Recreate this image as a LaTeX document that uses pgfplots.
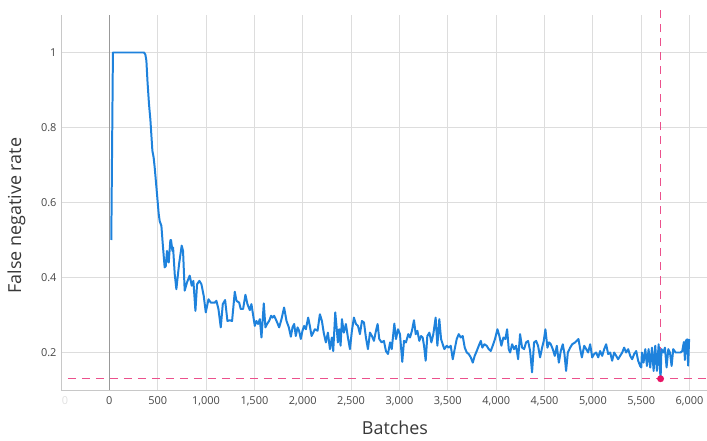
\documentclass[border=0pt]{standalone}
\usepackage{pgfplots}
\pgfplotsset{compat=1.18}
\usepackage{fontspec}
\setmainfont{Open Sans}
\definecolor{fnblue}{RGB}{30,130,220}
\definecolor{fnpink}{RGB}{236,80,140}
\definecolor{fndot}{RGB}{232,20,100}
\definecolor{gridc}{RGB}{221,221,221}
\definecolor{axc}{RGB}{200,200,200}
\definecolor{tickc}{RGB}{70,70,70}
\begin{document}
\begin{tikzpicture}
\begin{axis}[
  scale only axis, width=646bp, height=375bp,
  xmin=-500, xmax=6180, ymin=0.1, ymax=1.1,
  axis x line=bottom, axis y line=left,
  axis line style={draw=axc, line width=1pt, -},
  xtick={-500,0,500,1000,1500,2000,2500,3000,3500,4000,4500,5000,5500,6000},
  xticklabels={{\textcolor{black!12}{\hspace*{8bp}0}},0,500,{1,000},{1,500},{2,000},{2,500},{3,000},{3,500},{4,000},{4,500},{5,000},{5,500},{6,000}},
  ytick={0.2,0.4,0.6,0.8,1},
  yticklabels={0.2,0.4,0.6,0.8,1},
  scaled ticks=false,
  major tick length=0pt,
  xmajorgrids, ymajorgrids,
  grid style={draw=gridc, line width=0.9pt},
  tick label style={font=\fontsize{11}{12}\selectfont, text=tickc},
  xticklabel style={yshift=-3bp},
  yticklabel style={xshift=-1bp},
  /pgf/number format/assume math mode=true,
  xlabel={Batches}, ylabel={False negative rate},
  label style={font=\fontsize{18}{22}\selectfont, text=black!78},
  xlabel style={at={(axis description cs:0.517,0)}, anchor=north, yshift=-27bp},
  ylabel style={at={(axis description cs:-0.069,0.465)}, anchor=center, rotate=0},
  clip=false,
]
% x=0 reference line
\addplot[draw=black!40, line width=1pt] coordinates {(0,0.1) (0,1.1)};
% pink reference lines
\addplot[draw=fnpink, line width=1pt, dash pattern=on 8bp off 6bp] coordinates {(-430,0.13) (6180,0.13)};
\addplot[draw=fnpink, line width=1pt, dash pattern=on 8bp off 6bp] coordinates {(5700,1.112) (5700,0.13)};
% main series
\addplot[draw=fnblue, line width=2pt, line join=round] coordinates {
(20,0.50) (37,1.0) (150,1.0) (250,1.0) (358,1.0) (372,0.995) (383,0.978) (395,0.92) (410,0.862) (424,0.822)
(445,0.738) (458,0.72) (469,0.693) (493,0.622) (510,0.57) (521,0.55) (538,0.538) (555,0.48) (572,0.427)
(583,0.43) (596,0.471) (607,0.445) (614,0.44) (631,0.50) (638,0.50) (652,0.471) (659,0.48) (676,0.409)
(693,0.369) (721,0.436) (748,0.485) (762,0.471) (779,0.365) (803,0.387) (831,0.405) (852,0.378)
(869,0.391) (890,0.311) (907,0.382) (931,0.391) (952,0.382) (976,0.351) (997,0.307) (1025,0.342)
(1049,0.333) (1090,0.333) (1107,0.338) (1128,0.316) (1152,0.267) (1173,0.329) (1197,0.34) (1221,0.284)
(1245,0.286) (1269,0.284) (1297,0.362) (1314,0.338) (1342,0.333) (1359,0.316) (1383,0.316) (1407,0.354)
(1428,0.329) (1452,0.313) (1469,0.329) (1504,0.271) (1521,0.284) (1538,0.276) (1556,0.289) (1573,0.24)
(1597,0.331) (1614,0.267) (1631,0.276) (1652,0.284) (1673,0.298) (1687,0.293) (1704,0.298) (1729,0.284)
(1756,0.267) (1780,0.289) (1807,0.32) (1832,0.284) (1856,0.267) (1877,0.242) (1894,0.267) (1911,0.276)
(1928,0.244) (1946,0.267) (1962,0.258) (1980,0.236) (1997,0.258) (2014,0.271) (2032,0.262) (2056,0.293)
(2073,0.271) (2091,0.244) (2108,0.253) (2125,0.262) (2153,0.258) (2177,0.302) (2198,0.284) (2218,0.251)
(2239,0.227) (2260,0.253) (2281,0.209) (2301,0.24) (2315,0.204) (2336,0.307) (2350,0.267) (2363,0.227)
(2377,0.262) (2391,0.218) (2405,0.289) (2425,0.253) (2446,0.276) (2467,0.24) (2488,0.209) (2508,0.258)
(2529,0.293) (2550,0.276) (2571,0.271) (2591,0.249) (2612,0.284) (2633,0.28) (2653,0.24) (2674,0.209)
(2695,0.253) (2715,0.244) (2736,0.231) (2757,0.258) (2774,0.276) (2791,0.236) (2815,0.227) (2839,0.231)
(2860,0.204) (2881,0.196) (2903,0.227) (2920,0.209) (2947,0.277) (2964,0.236) (2985,0.262) (3005,0.249)
(3029,0.175) (3047,0.231) (3067,0.227) (3091,0.249) (3109,0.24) (3129,0.258) (3150,0.286) (3168,0.249)
(3185,0.258) (3205,0.231) (3223,0.244) (3240,0.24) (3254,0.218) (3271,0.178) (3288,0.244) (3309,0.253)
(3330,0.227) (3350,0.249) (3374,0.293) (3392,0.218) (3412,0.289) (3430,0.236) (3447,0.222) (3464,0.209)
(3489,0.218) (3509,0.213) (3530,0.218) (3551,0.182) (3571,0.209) (3592,0.236) (3613,0.249) (3633,0.24)
(3654,0.244) (3675,0.213) (3696,0.2) (3716,0.196) (3737,0.187) (3758,0.173) (3778,0.191) (3799,0.204)
(3820,0.218) (3841,0.231) (3857,0.213) (3878,0.222) (3902,0.218) (3923,0.209) (3944,0.204) (3964,0.218)
(3988,0.236) (4013,0.262) (4033,0.244) (4054,0.218) (4075,0.24) (4095,0.236) (4113,0.262) (4130,0.209)
(4144,0.2) (4165,0.222) (4185,0.209) (4206,0.218) (4227,0.182) (4247,0.249) (4268,0.213) (4289,0.209)
(4309,0.227) (4330,0.231) (4351,0.204) (4371,0.147) (4392,0.227) (4413,0.231) (4433,0.218) (4454,0.187)
(4475,0.213) (4492,0.231) (4509,0.262) (4530,0.213) (4547,0.227) (4565,0.222) (4585,0.209) (4606,0.191)
(4627,0.218) (4648,0.173) (4668,0.204) (4689,0.222) (4706,0.196) (4723,0.151) (4741,0.2) (4765,0.213)
(4786,0.222) (4817,0.227) (4851,0.236) (4869,0.209) (4886,0.187) (4910,0.218) (4931,0.209) (4951,0.2)
(4972,0.222) (4993,0.187) (5013,0.196) (5034,0.2) (5055,0.187) (5075,0.204) (5096,0.191) (5117,0.209)
(5137,0.222) (5158,0.196) (5179,0.2) (5199,0.178) (5220,0.2) (5241,0.191) (5261,0.182) (5282,0.191)
(5303,0.2) (5323,0.213) (5344,0.2) (5365,0.209) (5386,0.191) (5406,0.182) (5427,0.196) (5448,0.204)
(5468,0.178) (5489,0.164) (5500,0.16) (5507,0.2) (5524,0.173) (5542,0.209) (5559,0.164) (5576,0.209)
(5593,0.16) (5611,0.213) (5628,0.151) (5645,0.218) (5662,0.151) (5680,0.222) (5690,0.17) (5700,0.13)
(5709,0.209) (5728,0.2) (5745,0.213) (5762,0.16) (5780,0.209) (5797,0.2) (5814,0.164) (5831,0.209)
(5855,0.2) (5907,0.2) (5924,0.204) (5941,0.228) (5952,0.18) (5962,0.232) (5975,0.235) (5985,0.165) (5995,0.236)
};
\addplot[only marks, mark=*, mark size=3.2bp, fndot] coordinates {(5700,0.13)};
\end{axis}
\pgfresetboundingbox
\path ([xshift=-61bp,yshift=-51bp]current axis.south west) rectangle ([yshift=15bp]current axis.north east);
\end{tikzpicture}
\end{document}
